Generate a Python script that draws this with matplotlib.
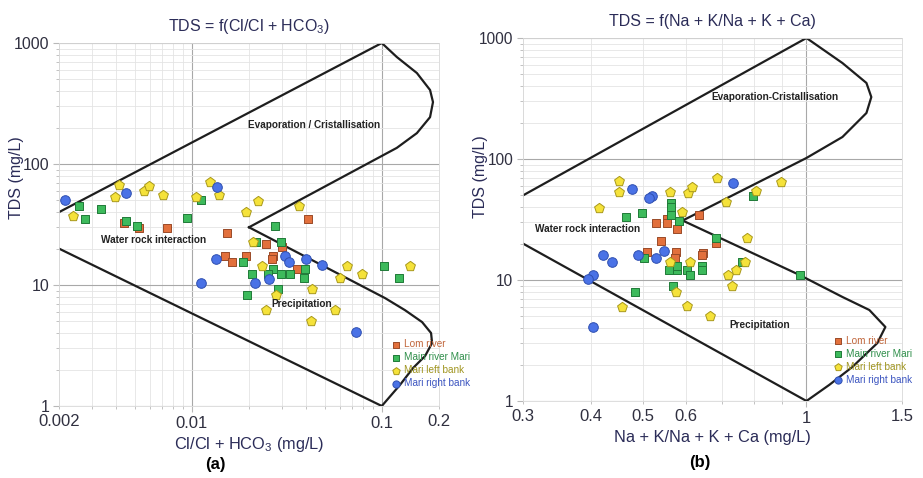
import matplotlib
matplotlib.use("Agg")
import matplotlib.pyplot as plt
from matplotlib.ticker import FixedLocator, FuncFormatter, NullFormatter

plt.rcParams['font.family'] = ['Liberation Sans', 'DejaVu Sans']
plt.rcParams['mathtext.fontset'] = 'custom'
plt.rcParams['mathtext.rm'] = 'Liberation Sans'
plt.rcParams['mathtext.it'] = 'Liberation Sans:italic'

# =====================================
# Data
# =====================================
SERIES = ["Lom river", "Main river Mari", "Mari left bank", "Mari right bank"]

# panel (a): TDS vs Cl/(Cl + HCO3)
A_LOM_X = [0.0044, 0.0053, 0.0074, 0.0154, 0.0149, 0.0162, 0.0194, 0.0245, 0.030, 0.0266, 0.0264, 0.0358, 0.041]
A_LOM_Y = [32.7, 29.8, 29.8, 26.7, 17.4, 15.4, 17.4, 21.7, 20.5, 17.4, 16.4, 13.5, 35]
A_MAIN_X = [0.00255, 0.00275, 0.00333, 0.00453, 0.00514, 0.00944, 0.0112, 0.0185, 0.0208, 0.0195, 0.0275,
            0.0294, 0.0266, 0.0251, 0.0294, 0.033, 0.0395, 0.0388, 0.0285, 0.103, 0.123, 0.0219]
A_MAIN_Y = [45, 35, 42.5, 34, 30.7, 36, 50, 15.4, 12.3, 8.3, 30.7, 22.8, 13.5, 12.3, 12.3, 12.3, 13.5, 11.4,
            9.2, 14.4, 11.4, 22.7]
A_LEFT_X = [0.00237, 0.00412, 0.00393, 0.00562, 0.00594, 0.00703, 0.0105, 0.0124, 0.0139, 0.0223, 0.0192,
            0.0365, 0.0211, 0.0233, 0.0277, 0.0245, 0.0428, 0.0425, 0.0564, 0.0604, 0.0655, 0.079, 0.1406]
A_LEFT_Y = [37, 67, 53.7, 60, 66, 55, 53.7, 70.6, 55.5, 49.4, 39.8, 45, 22.5, 14.4, 8.2, 6.2, 9.2, 5.07, 6.2,
            11.4, 14.4, 12.3, 14.4]
A_RIGHT_X = [0.00216, 0.00453, 0.0135, 0.01345, 0.01124, 0.0309, 0.0326, 0.040, 0.0486, 0.0255, 0.0215, 0.0735]
A_RIGHT_Y = [50, 58, 64, 16.4, 10.3, 17.4, 15.4, 16.4, 14.5, 11.3, 10.3, 4.1]

# panel (b): TDS vs (Na + K)/(Na + K + Ca)
B_LOM_X = [0.5285, 0.552, 0.552, 0.577, 0.633, 0.54, 0.507, 0.575, 0.572, 0.644, 0.641, 0.682]
B_LOM_Y = [29.4, 31.9, 29.4, 26.2, 34.4, 21.1, 17.1, 17.0, 15.1, 16.8, 16.0, 20.1]
B_MAIN_X = [0.4656, 0.4975, 0.5635, 0.5635, 0.5635, 0.582, 0.501, 0.557, 0.577, 0.577, 0.6025, 0.6105,
            0.641, 0.641, 0.567, 0.482, 0.682, 0.76, 0.796, 0.971]
B_MAIN_Y = [33.3, 35.6, 43, 40.4, 34.4, 30.5, 15.2, 12.1, 12.1, 13.1, 12.1, 11, 13.1, 12.1, 9.0, 8.0, 22.2,
            14.1, 49.4, 11.1]
B_LEFT_X = [0.451, 0.451, 0.414, 0.561, 0.604, 0.616, 0.59, 0.685, 0.711, 0.808, 0.898, 0.776, 0.771,
            0.6105, 0.561, 0.716, 0.74, 0.728, 0.574, 0.456, 0.6025, 0.663]
B_LEFT_Y = [65.8, 53, 39.6, 53.7, 52.7, 58.4, 36.3, 69.2, 44.4, 54.7, 64.9, 22.1, 14.1, 14.1, 14.1, 11,
            12.1, 9.0, 8.0, 6.0, 6.1, 5.04]
B_RIGHT_X = [0.4775, 0.518, 0.512, 0.732, 0.422, 0.4375, 0.488, 0.528, 0.546, 0.404, 0.396, 0.404]
B_RIGHT_Y = [56.5, 49.8, 47.9, 63, 16.1, 14.1, 16.1, 15.2, 17.3, 11.1, 10.2, 4.07]

# Gibbs envelope boundaries
A_TOP_X = [0.002, 0.1, 0.120, 0.153, 0.1795, 0.186, 0.1795, 0.153, 0.120, 0.02]
A_TOP_Y = [40, 1000, 766, 565, 409, 325, 244, 180, 136, 30]
A_MID_X = [0.02, 0.104, 0.1324, 0.163, 0.1817, 0.184, 0.169, 0.146, 0.1245, 0.1]
A_MID_Y = [30, 7.8, 6.2, 4.94, 4.01, 3.32, 2.59, 2.06, 1.49, 1]
A_LOW_X = [0.002, 0.1]
A_LOW_Y = [20, 1]

B_TOP_X = [0.3, 1.0, 1.165, 1.29, 1.317, 1.29, 1.165, 1.0, 0.591]
B_TOP_Y = [50, 1000, 621, 425, 325, 240, 152, 102, 31]
B_MID_X = [0.591, 0.971, 1.165, 1.306, 1.398, 1.351, 1.215, 1.102, 1.0]
B_MID_Y = [31, 11, 7.24, 5.65, 4.09, 3.01, 1.91, 1.36, 1]
B_LOW_X = [0.3, 1.0]
B_LOW_Y = [20, 1]

A_XTICKS = [0.002, 0.01, 0.1, 0.2]
A_XTICKLABELS = ["0.002", "0.01", "0.1", "0.2"]
B_XTICKS = [0.3, 0.4, 0.5, 0.6, 1, 1.5]
B_XTICKLABELS = ["0.3", "0.4", "0.5", "0.6", "1", "1.5"]
YTICKS = [1, 10, 100, 1000]
YTICKLABELS = ["1", "10", "100", "1000"]

STYLES = [
    dict(marker="s", s=26, color="#e2703c", edgecolor="#9a4a28", text="#c0653a"),
    dict(marker="s", s=26, color="#3dba5c", edgecolor="#207a38", text="#2f8f4a"),
    dict(marker="p", s=55, color="#f5e23a", edgecolor="#a8981a", text="#a09520"),
    dict(marker="o", s=48, color="#4a72e6", edgecolor="#2f4fb0", text="#3c55c0"),
]

NAVY = "#2b2c58"


def label_formatter(ticks, labels):
    def fmt(v, pos):
        for t, l in zip(ticks, labels):
            if abs(v / t - 1) < 1e-6:
                return l
        return ""
    return FuncFormatter(fmt)


def setup_axes(ax, xlim, xgrid_major, xgrid_minor, xticks, xlabels, title, xlabel,
               ylabel_xy, ytick_size):
    ax.set_xscale("log")
    ax.set_yscale("log")
    ax.set_xlim(*xlim)
    ax.set_ylim(1, 1000)

    ax.xaxis.set_major_locator(FixedLocator(xgrid_major))
    ax.xaxis.set_minor_locator(FixedLocator(xgrid_minor))
    ax.xaxis.set_major_formatter(label_formatter(xticks, xlabels))
    ax.xaxis.set_minor_formatter(label_formatter(xticks, xlabels))

    ax.yaxis.set_major_locator(FixedLocator(YTICKS))
    ax.yaxis.set_minor_locator(FixedLocator([d * k for d in [1, 10, 100] for k in range(2, 10)]))
    ax.yaxis.set_major_formatter(label_formatter(YTICKS, YTICKLABELS))
    ax.yaxis.set_minor_formatter(NullFormatter())

    ax.grid(True, which="major", color="#a8a8a8", lw=0.8)
    ax.grid(True, which="minor", color="#e4e4e4", lw=0.6)
    ax.set_axisbelow(True)
    for sp in ax.spines.values():
        sp.set_color("#d8d8d8")
        sp.set_linewidth(0.6)
    ax.tick_params(which="both", color="#b8b8b8", labelcolor="#303040", labelsize=12, pad=3)
    ax.tick_params(axis="y", labelsize=ytick_size)
    ax.tick_params(which="major", length=4)
    ax.tick_params(which="minor", length=2.5)

    ax.set_title(title, fontsize=11.5, color=NAVY, pad=9)
    ax.set_xlabel(xlabel, fontsize=11.8, color=NAVY, labelpad=3)
    ax.set_ylabel("TDS (mg/L)", fontsize=11.5, color=NAVY)
    ax.yaxis.set_label_coords(*ylabel_xy)


def draw_panel(ax, series_xy, bounds, notes, legend_anchor):
    for (xs, ys) in bounds:
        ax.plot(xs, ys, color="#1e1e1e", lw=1.6, solid_joinstyle="round", zorder=2)

    handles = []
    for name, (xs, ys), st in zip(SERIES, series_xy, STYLES):
        h = ax.scatter(xs, ys, marker=st["marker"], s=st["s"], c=st["color"],
                       edgecolors=st["edgecolor"], linewidths=0.7, zorder=3, label=name)
        handles.append(h)

    for txt, x, y in notes:
        ax.text(x, y, txt, fontsize=7.2, fontweight="bold", color="#222222",
                ha="center", va="center", zorder=4)

    leg = ax.legend(handles=handles, loc="lower left", bbox_to_anchor=legend_anchor,
                    frameon=False, fontsize=7.2, handletextpad=0.35, labelspacing=0.3,
                    borderpad=0, handlelength=0.9, markerscale=0.75)
    for t, st in zip(leg.get_texts(), STYLES):
        t.set_color(st["text"])


fig = plt.figure(figsize=(9.23, 4.78), dpi=100)
ax_a = fig.add_axes([0.0639, 0.1506, 0.4117, 0.7594])
ax_b = fig.add_axes([0.5666, 0.1611, 0.4106, 0.7594])

# panel (a)
a_minor = [d * k for d in [0.001, 0.01] for k in range(2, 10)] + [0.2]
setup_axes(ax_a, (0.002, 0.2), [0.01, 0.1], a_minor, A_XTICKS, A_XTICKLABELS,
           "TDS = f(Cl/Cl + HCO$_3$)", "Cl/Cl + HCO$_3$ (mg/L)", (-0.093, 0.63), 11.5)
draw_panel(
    ax_a,
    [(A_LOM_X, A_LOM_Y), (A_MAIN_X, A_MAIN_Y), (A_LEFT_X, A_LEFT_Y), (A_RIGHT_X, A_RIGHT_Y)],
    [(A_TOP_X, A_TOP_Y), (A_MID_X, A_MID_Y), (A_LOW_X, A_LOW_Y)],
    [("Evaporation / Cristallisation", 0.0442, 210),
     ("Water rock interaction", 0.0063, 23.5),
     ("Precipitation", 0.0378, 7.0)],
    (0.862, 0.035),
)

# panel (b)
b_minor = [0.1 * k for k in range(3, 10)] + [1.5]
setup_axes(ax_b, (0.3, 1.5), [1.0], b_minor, B_XTICKS, B_XTICKLABELS,
           "TDS = f(Na + K/Na + K + Ca)", "Na + K/Na + K + Ca (mg/L)", (-0.092, 0.617), 11.2)
draw_panel(
    ax_b,
    [(B_LOM_X, B_LOM_Y), (B_MAIN_X, B_MAIN_Y), (B_LEFT_X, B_LEFT_Y), (B_RIGHT_X, B_RIGHT_Y)],
    [(B_TOP_X, B_TOP_Y), (B_MID_X, B_MID_Y), (B_LOW_X, B_LOW_Y)],
    [("Evaporation-Cristallisation", 0.873, 325),
     ("Water rock interaction", 0.394, 26.4),
     ("Precipitation", 0.819, 4.25)],
    (0.805, 0.03),
)

fig.text(215 / 923, 1 - 464 / 478, "(a)", fontsize=12, fontweight="bold", ha="center", va="center")
fig.text(700 / 923, 1 - 463 / 478, "(b)", fontsize=12, fontweight="bold", ha="center", va="center")

fig.savefig("out.png", dpi=100)
